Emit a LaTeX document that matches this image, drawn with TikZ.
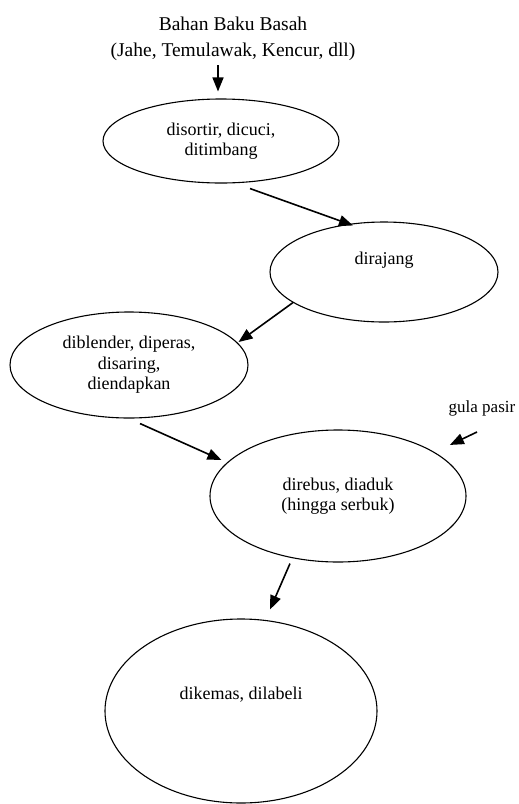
\documentclass[tikz,border=0pt]{standalone}
\usepackage{fontspec}
\setmainfont{Liberation Serif}
\usetikzlibrary{shapes.geometric,arrows.meta,calc}

\begin{document}
\begin{tikzpicture}[x=1pt,y=-1pt,
    proc/.style={ellipse, draw, line width=1.1pt, inner sep=0pt, align=center,
        font=\fontsize{18}{20.5}\selectfont},
    flow/.style={-{Triangle[length=14pt,width=11pt]}, line width=1.6pt}]

\useasboundingbox (0,0) rectangle (519,804);

% Raw material
\node[anchor=south, align=center, font=\fontsize{19.5}{26}\selectfont] (bahan) at (233,64)
    {Bahan Baku Basah\\(Jahe, Temulawak, Kencur, dll)};

% Process steps
\node[proc, minimum width=236pt, minimum height=84pt] (sortir) at (221,141) {disortir, dicuci,\\ditimbang};
\node[proc, minimum width=228pt, minimum height=100pt] (rajang) at (384,272) {\raisebox{28pt}{dirajang}};
\node[proc, minimum width=238pt, minimum height=106pt] (blender) at (129,365) {diblender, diperas,\\disaring,\\diendapkan};
\node[proc, minimum width=256pt, minimum height=132pt] (rebus) at (338,496) {direbus, diaduk\\(hingga serbuk)};
\node[proc, minimum width=272pt, minimum height=184pt] (kemas) at (241,711) {\raisebox{36pt}{dikemas, dilabeli}};

% Added ingredient
\node[anchor=south, font=\fontsize{17}{20}\selectfont] (gula) at (482,420) {gula pasir};

% Arrows
\draw[flow] ($(bahan.south)+(-15,1)$) -- ($(sortir.north)+(-3,-7)$);
\draw[flow] ($(sortir.south)+(29,5)$) -- ($(rajang.north)+(-31,4)$);
\draw[flow] ($(rajang.south)+(-91,-20)$) -- ($(blender.east)+(-10,-23)$);
\draw[flow] ($(blender.south)+(11,5)$) -- ($(rebus.west)+(12,-36)$);
\draw[flow] ($(gula.south)+(-5,12)$) -- ($(rebus.north east)+(21,-4)$);
\draw[flow] ($(rebus.south)+(-48,1)$) -- ($(kemas.north)+(29,-9)$);

\end{tikzpicture}
\end{document}
